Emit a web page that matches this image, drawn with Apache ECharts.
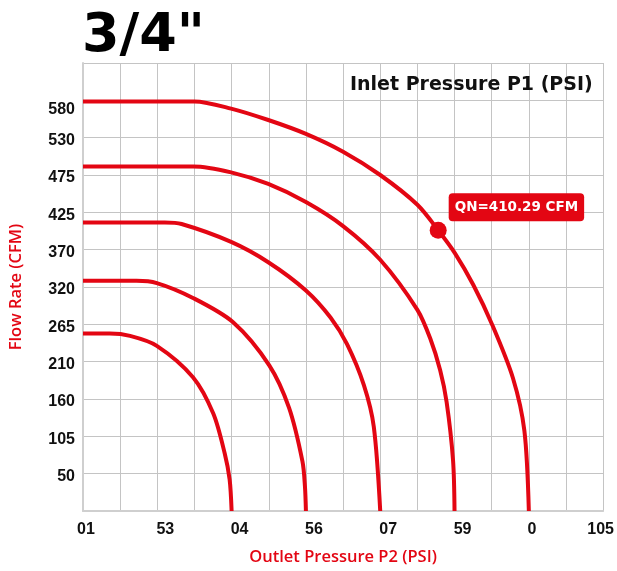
<!DOCTYPE html>
<html>
<head>
<meta charset="utf-8">
<script src="https://cdn.jsdelivr.net/npm/echarts@6/dist/echarts.min.js"></script>
<style>
html,body{margin:0;padding:0;background:#fff;}
#chart{width:617px;height:571px;}
</style>
</head>
<body>
<div id="chart"></div>
<script>
// ---- data ----
const xTickLabels = ['01', '53', '04', '56', '07', '59', '0', '105'];
const yTickLabels = ['50', '105', '160', '210', '265', '320', '370', '425', '475', '530', '580'];
const seriesNames = ['30 PSI', '45 PSI', '60 PSI', '75 PSI', '90 PSI'];
const psi30 = [[0, 251.9], [5.4, 251.9], [9.5, 248.6], [14.9, 234.5], [22.2, 189.9], [26.3, 138.3], [28.6, 82], [29.6, 44.6], [30, 0]];
const psi45 = [[0, 326.9], [10.8, 326.9], [14.9, 323.6], [22.2, 302.5], [30.3, 268.0], [37.6, 206.8], [41.6, 146.3], [44.3, 70.4], [44.8, 35.2], [45, 0]];
const psi60 = [[0, 409.5], [16.5, 409.5], [19.9, 407.4], [29.9, 382.0], [37.4, 353.2], [45.0, 313.1], [50.0, 274.4], [53.3, 236.8], [56.7, 178.7], [58.7, 119.6], [60, 0]];
const psi75 = [[0, 489.2], [22.3, 489.2], [29.9, 480.8], [37.4, 464.3], [45.0, 438.6], [52.5, 404.5], [60.0, 356.7], [67.5, 285.6], [70.1, 244.8], [72.1, 199.8], [73.4, 154.8], [74.7, 71.8], [75, 0]];
const psi90 = [[0, 581.5], [22.5, 581.5], [29.9, 571.3], [37.4, 555.1], [45.0, 535.4], [52.5, 510.1], [60.0, 477.0], [67.5, 434.8], [71.7, 398.6], [75.1, 365.8], [78.8, 320.8], [82.6, 264.5], [86.8, 188.5], [89.1, 114.0], [90, 0]];
const qnPoint = [71.7, 398.6];
const qnText = 'QN=410.29 CFM';

const RED = '#e30613';
const allSeries = [psi30, psi45, psi60, psi75, psi90];

const chart = echarts.init(document.getElementById('chart'));

const lineSeries = allSeries.map((d, i) => ({
  type: 'line',
  name: seriesNames[i],
  data: d.map((p, j) => j === 0 ? {
    value: p,
    label: {
      show: true, position: 'top', align: 'left', distance: 2, offset: [4, 0],
      formatter: seriesNames[i], color: RED,
      fontFamily: 'DejaVu Sans', fontWeight: 'bold', fontSize: 13
    }
  } : p),
  smooth: 0.3,
  showSymbol: false,
  symbol: 'none',
  lineStyle: { color: RED, width: 4 },
  silent: true,
  z: 3
}));

const tickFont = { fontFamily: 'Liberation Sans', fontWeight: 'bold', fontSize: 16, color: '#111' };

const option = {
  animation: false,
  backgroundColor: '#fff',
  grid: { left: 81, right: 13, top: 63, bottom: 56, containLabel: false },
  xAxis: {
    type: 'value', min: 0, max: 105, interval: 7.5,
    name: 'Outlet Pressure P2 (PSI)', nameLocation: 'middle', nameGap: 38,
    nameTextStyle: { color: RED, fontFamily: 'Open Sans', fontWeight: 600, fontSize: 16.5 },
    axisLine: { show: true, lineStyle: { color: '#cfcfcf', width: 2 } },
    axisTick: { show: false },
    splitLine: { show: true, lineStyle: { color: '#c4c4c4', width: 1 } },
    axisLabel: Object.assign({
      margin: 11,
      formatter: function (v) {
        const k = Math.round(v / 7.5);
        if (k % 2 !== 0) return '';
        const t = xTickLabels[k / 2];
        if (k === 0) return '{f|' + t + '}';
        if (k === 14) return '{l|' + t + '}';
        if (k === 12) return '{z|' + t + '}';
        return '{m|' + t + '}';
      },
      rich: {
        f: Object.assign({ padding: [0, 0, 0, 6] }, tickFont),
        m: Object.assign({ padding: [0, 0, 0, 16] }, tickFont),
        z: Object.assign({ padding: [0, 0, 0, 6] }, tickFont),
        l: Object.assign({ padding: [0, 5, 0, 0] }, tickFont)
      }
    }, tickFont)
  },
  yAxis: {
    type: 'value', min: 0, max: 636, interval: 53,
    name: 'Flow Rate (CFM)', nameLocation: 'middle', nameGap: 58,
    nameTextStyle: { color: RED, fontFamily: 'Open Sans', fontWeight: 600, fontSize: 16.5 },
    axisLine: { show: true, lineStyle: { color: '#cfcfcf', width: 2 } },
    axisTick: { show: false },
    splitLine: { show: true, lineStyle: { color: '#c4c4c4', width: 1 } },
    axisLabel: Object.assign({
      margin: 8,
      formatter: function (v) {
        const k = Math.round(v / 53);
        if (k < 1 || k > 11) return '';
        return (k === 11 ? '{t|' : '{a|') + yTickLabels[k - 1] + '}';
      },
      rich: {
        a: Object.assign({ padding: [6, 0, 0, 0] }, tickFont),
        t: Object.assign({ padding: [18, 0, 0, 0] }, tickFont)
      }
    }, tickFont)
  },
  graphic: [
    {
      type: 'text', left: 82, top: 10, z: 10,
      style: { text: '3/4"', fill: '#000', font: 'bold 54px "DejaVu Sans"' }
    },
    {
      type: 'text', left: 350, top: 76, z: 10,
      style: { text: 'Inlet Pressure P1 (PSI)', fill: '#111', font: 'bold 19px "DejaVu Sans"' }
    }
  ],
  series: lineSeries.concat([{
    type: 'scatter',
    data: [qnPoint],
    symbol: 'circle',
    symbolSize: 17,
    itemStyle: { color: RED, opacity: 1 },
    silent: true,
    z: 5,
    label: {
      show: true, position: 'right', distance: 2, offset: [0, -23],
      formatter: qnText, opacity: 1,
      color: '#fff', backgroundColor: RED, borderRadius: 4,
      padding: [7, 6, 7, 6],
      fontFamily: 'DejaVu Sans', fontWeight: 'bold', fontSize: 13.5
    }
  }])
};
chart.setOption(option);
</script>
</body>
</html>
